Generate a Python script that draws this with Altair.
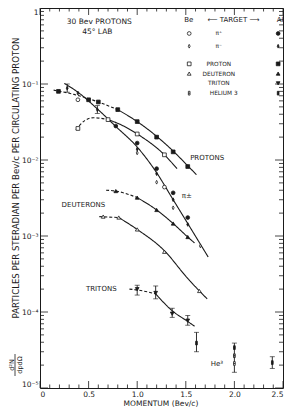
import altair as alt
import pandas as pd

FONT = "DejaVu Sans"
INK = "#1a1a1a"

# ---------------- data ----------------
# pi+  (circles)
pip_al_x = [0.78, 1.0, 1.2, 1.37, 1.52]
pip_al_y = [2.8e-2, 1.67e-2, 7.7e-3, 3.7e-3, 1.75e-3]
pip_be_x = [0.39, 1.28]
pip_be_y = [6.2e-2, 4.4e-3]
# pi-  (diamonds)
pim_al_x = [0.28, 0.39, 0.59, 1.0, 1.2, 1.37, 1.52]
pim_al_y = [8.8e-2, 7.6e-2, 4.6e-2, 1.39e-2, 6.6e-3, 3.0e-3, 1.42e-3]
pim_be_x = [1.0, 1.2, 1.37, 1.65]
pim_be_y = [1.24e-2, 5.1e-3, 2.35e-3, 7.4e-4]
pim_err_x = [0.28, 0.59]
pim_err_lo = [7.8e-2, 4.1e-2]
pim_err_hi = [1.0e-1, 5.2e-2]
# protons (squares)
p_al_x = [0.19, 0.5, 0.6, 0.8, 1.0, 1.2, 1.37, 1.52]
p_al_y = [8.0e-2, 6.2e-2, 5.8e-2, 4.6e-2, 3.2e-2, 2.0e-2, 1.28e-2, 8.2e-3]
p_be_x = [0.39, 0.70, 1.0, 1.28]
p_be_y = [2.6e-2, 3.4e-2, 2.2e-2, 1.17e-2]
# deuterons (triangles)
d_al_x = [0.78, 1.0, 1.2, 1.37, 1.52]
d_al_y = [3.9e-3, 3.2e-3, 2.2e-3, 1.46e-3, 9.7e-4]
d_be_x = [0.65, 0.81, 1.0, 1.28, 1.64]
d_be_y = [1.8e-3, 1.75e-3, 1.22e-3, 6.2e-4, 1.89e-4]
# tritons (Al, inverted triangles) with error bars
t_al_x = [1.0, 1.19, 1.36, 1.52]
t_al_y = [2.0e-4, 1.78e-4, 9.5e-5, 7.7e-5]
t_al_lo = [1.67e-4, 1.49e-4, 8.5e-5, 6.7e-5]
t_al_hi = [2.25e-4, 2.2e-4, 1.12e-4, 9.0e-5]
# helium 3
he_al_x = [1.61, 2.0, 2.39]
he_al_y = [3.9e-5, 3.4e-5, 2.16e-5]
he_be_x = [2.0]
he_be_y = [2.1e-5]
he_mid_x = [2.0]
he_mid_y = [2.66e-5]
he_err_x = [1.61, 2.0, 2.39]
he_err_lo = [3.0e-5, 1.61e-5, 1.81e-5]
he_err_hi = [5.4e-5, 3.9e-5, 2.58e-5]

# hand-drawn curves: (x, y) pairs
cA_dash_x = [0.14, 0.35, 0.60, 0.80]
cA_dash_y = [8.3e-2, 7.3e-2, 5.8e-2, 4.6e-2]
cA_x = [0.80, 1.0, 1.2, 1.37, 1.52, 1.61]
cA_y = [4.6e-2, 3.2e-2, 2.05e-2, 1.31e-2, 8.4e-3, 6.4e-3]
cB_dash_x = [0.37, 0.46, 0.55, 0.70]
cB_dash_y = [2.5e-2, 3.3e-2, 3.6e-2, 3.4e-2]
cB_x = [0.70, 0.81, 1.0, 1.28, 1.41]
cB_y = [3.4e-2, 3.0e-2, 2.2e-2, 1.17e-2, 7.7e-3]
cPi_x = [0.25, 0.39, 0.59, 0.78, 1.0, 1.2, 1.37, 1.52, 1.73]
cPi_y = [1.02e-1, 7.8e-2, 4.7e-2, 2.76e-2, 1.48e-2, 6.8e-3, 3.0e-3, 1.46e-3, 5.3e-4]
cD_dash_x = [0.68, 0.78, 1.0]
cD_dash_y = [4.0e-3, 3.9e-3, 3.2e-3]
cD_x = [1.0, 1.2, 1.37, 1.52, 1.59]
cD_y = [3.2e-3, 2.2e-3, 1.46e-3, 9.7e-4, 8.1e-4]
cE_dash_x = [0.61, 0.81]
cE_dash_y = [1.8e-3, 1.75e-3]
cE_x = [0.81, 1.0, 1.28, 1.51, 1.64, 1.72]
cE_y = [1.75e-3, 1.22e-3, 6.4e-4, 2.86e-4, 1.89e-4, 1.49e-4]
cT_dash_x = [0.92, 1.0, 1.19]
cT_dash_y = [2.0e-4, 1.95e-4, 1.73e-4]
cT_x = [1.19, 1.36, 1.52, 1.59]
cT_y = [1.73e-4, 1.04e-4, 7.5e-5, 6.5e-5]

# text
curve_labels = ["PROTONS", "π±", "DEUTERONS", "TRITONS", "He³"]
curve_label_x = [1.72, 1.51, 0.447, 0.63, 1.82]
curve_label_y = [1.07e-2, 3.36e-3, 2.57e-3, 2.0e-4, 2.1e-5]
title_lines = ["30 Bev PROTONS", "45° LAB"]
title_x = [0.61, 0.59]
title_y = [0.66, 0.48]
legend_kinds = ["pi+", "pi-", "proton", "deuteron", "triton", "he3"]
legend_names = ["π⁺", "π⁻", "PROTON", "DEUTERON", "TRITON", "HELIUM 3"]
legend_row_y = [0.462, 0.314, 0.184, 0.137, 0.102, 0.0757]
legend_name_x = [1.84, 1.84, 1.84, 1.84, 1.84, 1.89]
legend_be_kinds = ["pi+", "pi-", "proton", "deuteron", "he3"]
legend_al_kinds = ["pi+", "pi-", "proton", "deuteron", "triton", "he3"]
legend_be_col_x = 1.535
legend_al_col_x = 2.45
header_texts = ["Be", "⟵ TARGET ⟶", "Al"]
header_x = [1.53, 1.99, 2.47]
header_y = [0.70, 0.70, 0.70]

x_label_values = [0, 0.5, 1.0, 1.5, 2.0, 2.5]
x_minor = [round(i * 0.1, 1) for i in range(26) if i % 5]
y_major = [1e-5, 1e-4, 1e-3, 1e-2, 1e-1, 1]
y_minor = [m * 10.0 ** e for e in range(-5, 0) for m in range(2, 10)]

y_title = "PARTICLES  PER  STERADIAN  PER  Bev/c  PER  CIRCULATING  PROTON"
x_title = "MOMENTUM  (Bev/c)"

# ---------------- frames ----------------
W, H = 243, 380


def pts(xs, ys, kind, target):
    return pd.DataFrame({"x": xs, "y": ys, "kind": kind, "target": target})


points = pd.concat([
    pts(pip_al_x, pip_al_y, "pi+", "Al"), pts(pip_be_x, pip_be_y, "pi+", "Be"),
    pts(pim_al_x, pim_al_y, "pi-", "Al"), pts(pim_be_x, pim_be_y, "pi-", "Be"),
    pts(p_al_x, p_al_y, "proton", "Al"), pts(p_be_x, p_be_y, "proton", "Be"),
    pts(d_al_x, d_al_y, "deuteron", "Al"), pts(d_be_x, d_be_y, "deuteron", "Be"),
    pts(t_al_x, t_al_y, "triton", "Al"),
    pts(he_al_x, he_al_y, "he3", "Al"), pts(he_be_x, he_be_y, "he3", "Be"),
    pts(he_mid_x, he_mid_y, "he3", "X"),
], ignore_index=True)

legend_pts = pd.concat([
    pd.DataFrame({"x": legend_be_col_x, "y": [legend_row_y[legend_kinds.index(k)] for k in legend_be_kinds],
                  "kind": legend_be_kinds, "target": "Be"}),
    pd.DataFrame({"x": legend_al_col_x, "y": [legend_row_y[legend_kinds.index(k)] for k in legend_al_kinds],
                  "kind": legend_al_kinds, "target": "Al"}),
], ignore_index=True)


def seg(name, style, xs, ys):
    return pd.DataFrame({"seg": name, "style": style, "x": xs, "y": ys, "i": range(len(xs))})


curves = pd.concat([
    seg("A0", "dash", cA_dash_x, cA_dash_y), seg("A1", "solid", cA_x, cA_y),
    seg("B0", "dash", cB_dash_x, cB_dash_y), seg("B1", "solid", cB_x, cB_y),
    seg("P1", "solid", cPi_x, cPi_y),
    seg("D0", "dash", cD_dash_x, cD_dash_y), seg("D1", "solid", cD_x, cD_y),
    seg("E0", "dash", cE_dash_x, cE_dash_y), seg("E1", "solid", cE_x, cE_y),
    seg("T0", "dash", cT_dash_x, cT_dash_y), seg("T1", "solid", cT_x, cT_y),
], ignore_index=True)

errs = pd.DataFrame({
    "x": t_al_x + he_err_x + pim_err_x,
    "lo": t_al_lo + he_err_lo + pim_err_lo,
    "hi": t_al_hi + he_err_hi + pim_err_hi,
})

# ---------------- encodings ----------------
XSCALE = alt.Scale(domain=[0, 2.5], nice=False, zero=False)
YSCALE = alt.Scale(type="log", domain=[1e-5, 1], nice=False)
X = alt.X("x:Q", scale=XSCALE,
          axis=alt.Axis(values=x_label_values, ticks=False, domain=False, grid=False,
                        labelExpr="datum.value == 0 ? '0' : format(datum.value, '.1f')",
                        labelFont=FONT, labelFontSize=7.5, labelColor=INK, labelPadding=2,
                        labelFlush=True, labelOverlap=False, title=None))
Y = alt.Y("y:Q", scale=YSCALE,
          axis=alt.Axis(values=y_major, ticks=False, domain=False, grid=False,
                        labelExpr="datum.value > 0.5 ? '1' : '10' + ['⁰','⁻¹','⁻²','⁻³','⁻⁴','⁻⁵'][round(-log(datum.value)/LN10)]",
                        labelFont=FONT, labelFontSize=7.5, labelColor=INK, labelPadding=2,
                        labelFlush=True, labelOverlap=False, title=None))

shape_scale = alt.Scale(
    domain=["pi+", "pi-", "proton", "deuteron", "triton", "he3"],
    range=["circle", "M0,-1L0.5,0L0,1L-0.5,0Z", "square", "triangle-up", "triangle-down",
           "M-0.45,-1L0.45,-1L0.45,1L-0.45,1Z M-0.45,0L0.45,0"])
fill_scale = alt.Scale(domain=["Al", "Be", "X"], range=[INK, "white", "#9a9a9a"])


def symbol_layer(df, size):
    return alt.Chart(df).mark_point(filled=True, stroke=INK, strokeWidth=0.8, size=size, opacity=1).encode(
        x=X, y=Y,
        shape=alt.Shape("kind:N", scale=shape_scale, legend=None),
        fill=alt.Fill("target:N", scale=fill_scale, legend=None),
    )


lines = alt.Chart(curves).mark_line(color=INK, strokeWidth=1.1, interpolate="monotone").encode(
    x=X, y=Y, detail="seg:N", order="i:Q",
    strokeDash=alt.StrokeDash("style:N", scale=alt.Scale(domain=["solid", "dash"], range=[[1, 0], [3, 2]]),
                              legend=None),
)

err_rules = alt.Chart(errs).mark_rule(color=INK, strokeWidth=0.9).encode(
    x=X, y=alt.Y("lo:Q", scale=YSCALE), y2="hi:Q")
err_lo = alt.Chart(errs).mark_tick(orient="horizontal", size=5, thickness=0.9, color=INK).encode(
    x=X, y=alt.Y("lo:Q", scale=YSCALE))
err_hi = alt.Chart(errs).mark_tick(orient="horizontal", size=5, thickness=0.9, color=INK).encode(
    x=X, y=alt.Y("hi:Q", scale=YSCALE))


def xticks(vals, y0, y1):
    return alt.Chart(pd.DataFrame({"x": vals})).mark_rule(color=INK, strokeWidth=0.8).encode(
        x=X, y=alt.value(y0), y2=alt.value(y1))


def yticks(vals, x0, x1):
    return alt.Chart(pd.DataFrame({"y": vals})).mark_rule(color=INK, strokeWidth=0.8).encode(
        y=Y, x=alt.value(x0), x2=alt.value(x1))


def text_layer(texts, xs, ys, size, **kw):
    return alt.Chart(pd.DataFrame({"t": texts, "x": xs, "y": ys})).mark_text(
        font=FONT, fontSize=size, color=INK, align="center", baseline="middle", **kw).encode(
        x=X, y=Y, text="t:N")


def pixel_text(text, px, py, size, **kw):
    return alt.Chart(pd.DataFrame({"t": [text]})).mark_text(
        font=FONT, fontSize=size, color=INK, align="center", baseline="middle", **kw).encode(
        text="t:N", x=alt.value(px), y=alt.value(py))


frac_bar = alt.Chart(pd.DataFrame({"t": [0]})).mark_rule(color=INK, strokeWidth=0.8).encode(
    x=alt.value(-25), y=alt.value(346), y2=alt.value(368))

chart = alt.layer(
    xticks(x_label_values, H, H - 7), xticks(x_minor, H, H - 3.5),
    xticks(x_label_values, 0, 7), xticks(x_minor, 0, 3.5),
    yticks(y_major, 0, 8), yticks(y_minor, 0, 4),
    yticks(y_major, W, W - 8), yticks(y_minor, W, W - 4),
    lines, err_rules, err_lo, err_hi,
    symbol_layer(points, 14), symbol_layer(legend_pts, 14),
    text_layer(curve_labels, curve_label_x, curve_label_y, 7),
    text_layer(title_lines, title_x, title_y, 7.5),
    text_layer(legend_names, legend_name_x, legend_row_y, 5.8),
    text_layer(header_texts, header_x, header_y, 7),
    pixel_text(y_title, -24, 170, 8.6, angle=270),
    pixel_text("d²N", -28.5, 357, 6.5, angle=270),
    pixel_text("dpdΩ", -20.5, 357, 6.5, angle=270),
    frac_bar,
    pixel_text(x_title, 121, 396, 7.5),
).properties(
    width=W, height=H,
    autosize=alt.AutoSizeParams(type="none"),
    padding={"left": 32, "top": 0, "right": 1, "bottom": 19},
    background="white",
).configure_view(stroke=INK, strokeWidth=1)

chart.save("out.html", embed_options={"renderer": "svg", "actions": False})
